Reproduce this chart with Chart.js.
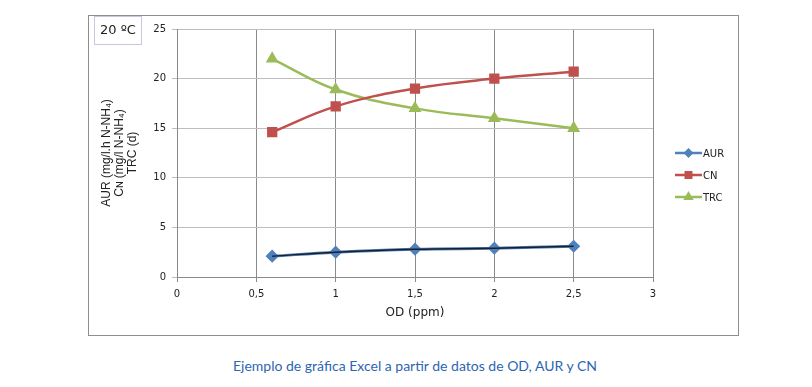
<!DOCTYPE html>
<html>
<head>
<meta charset="utf-8">
<script src="https://cdn.jsdelivr.net/npm/chart.js@4"></script>
<style>
  body { margin: 0; background: #fff; width: 812px; height: 387px; position: relative; overflow: hidden; }
  #wrap { position: absolute; left: 88px; top: 15px; width: 651px; height: 321px; }
  #caption { position: absolute; left: 9px; width: 812px; top: 357px; text-align: center;
    font-family: Lato, "Open Sans", sans-serif; font-size: 14px; color: #2c66b2; }
</style>
</head>
<body>
<div id="wrap"><canvas id="grafica" width="651" height="321"></canvas></div>
<div id="caption">Ejemplo de gráfica Excel a partir de datos de OD, AUR y CN</div>
<script>
// OD (ppm)
var od = [0.6, 1, 1.5, 2, 2.5];
var aur = [2.1, 2.5, 2.8, 2.9, 3.1];
var cn = [14.6, 17.2, 19.0, 20.0, 20.7];
var trc = [22.0, 18.9, 17.0, 16.0, 15.0];
var serieNames = ["AUR", "CN", "TRC"];
var yTitle = ["AUR (mg/l.h N-NH₄)", "Cɴ (mg/l N-NH₄)", "TRC (d)"];

function pts(vals) {
  return vals.map(function (v, i) { return {x: od[i], y: v}; });
}

var marco = {
  id: 'marco',
  beforeDraw: function (chart) {
    var c = chart.ctx;
    c.save();
    c.fillStyle = '#fff';
    c.fillRect(0, 0, chart.width, chart.height);
    c.strokeStyle = '#8e8e8e';
    c.lineWidth = 1;
    c.strokeRect(0.5, 0.5, chart.width - 1, chart.height - 1);
    // caja "20 ºC"
    c.strokeStyle = '#c9c6e2';
    c.strokeRect(6.5, 1.5, 47, 28);
    c.fillStyle = '#222';
    c.font = '13px "DejaVu Sans"';
    c.textAlign = 'center';
    c.textBaseline = 'middle';
    c.fillText('20 ºC', 30, 16);
    c.restore();
  },
  afterDraw: function (chart) {
    // leyenda estilo Excel: linea + marcador
    var c = chart.ctx;
    c.save();
    c.font = '10px "DejaVu Sans"';
    c.textBaseline = 'middle';
    c.textAlign = 'left';
    var y0 = 138;
    chart.data.datasets.forEach(function (ds) {
      if (!ds.enLeyenda) return;
      c.strokeStyle = ds.borderColor;
      c.lineWidth = 2.5;
      c.beginPath();
      c.moveTo(587, y0);
      c.lineTo(614, y0);
      c.stroke();
      c.fillStyle = ds.pointBackgroundColor;
      c.strokeStyle = ds.pointBorderColor;
      Chart.helpers.drawPoint(c, {pointStyle: ds.pointStyle, radius: ds.pointRadius * 0.7, rotation: 0, borderWidth: 1}, 600.5, y0);
      c.fillStyle = '#222';
      c.fillText(ds.label, 615, y0 + 1);
      y0 += 22;
    });
    c.restore();
  }
};

new Chart(document.getElementById('grafica'), {
  type: 'scatter',
  data: {
    datasets: [
      {
        label: 'tendencia', data: pts(aur), showLine: true, borderColor: '#18202c', borderWidth: 1.5,
        pointRadius: 0, tension: 0.4, order: 0, enLeyenda: false
      },
      {
        label: serieNames[0], data: pts(aur), showLine: true, borderColor: '#4f81bd', borderWidth: 3,
        pointStyle: 'rectRot', pointRadius: 4.5, pointBackgroundColor: '#4f81bd', pointBorderColor: '#4f81bd',
        tension: 0.4, order: 1, enLeyenda: true
      },
      {
        label: serieNames[1], data: pts(cn), showLine: true, borderColor: '#c0504d', borderWidth: 2.5,
        pointStyle: 'rect', pointRadius: 5.5, pointBackgroundColor: '#c0504d', pointBorderColor: '#c0504d',
        tension: 0.4, order: 1, enLeyenda: true
      },
      {
        label: serieNames[2], data: pts(trc), showLine: true, borderColor: '#9bbb59', borderWidth: 2.5,
        pointStyle: 'triangle', pointRadius: 5, pointBackgroundColor: '#9bbb59', pointBorderColor: '#9bbb59',
        tension: 0.4, order: 1, enLeyenda: true
      }
    ]
  },
  options: {
    responsive: false,
    animation: false,
    layout: { padding: { left: 0, right: 86, top: 14, bottom: 0 } },
    plugins: { legend: { display: false }, tooltip: { enabled: false } },
    scales: {
      x: {
        type: 'linear', min: 0, max: 3,
        afterFit: function (s) { s.height = 59; },
        ticks: {
          stepSize: 0.5, color: '#222', padding: 6,
          font: { family: 'DejaVu Sans', size: 10 },
          callback: function (v) { return String(v).replace('.', ','); }
        },
        grid: { color: '#8a8a8a', tickLength: 5, drawTicks: true },
        border: { color: '#8a8a8a' },
        title: {
          display: true, text: 'OD (ppm)', color: '#222',
          font: { family: 'DejaVu Sans', size: 12 }, padding: { top: 0, bottom: 16 }
        }
      },
      y: {
        min: 0, max: 25,
        afterFit: function (s) { s.width = 89; },
        ticks: { stepSize: 5, color: '#222', padding: 6, font: { family: 'DejaVu Sans', size: 10 } },
        grid: { color: '#bdbdbd', tickLength: 5 },
        border: { color: '#8a8a8a' },
        title: {
          display: true, text: yTitle, color: '#222',
          font: { family: 'Liberation Sans', size: 12, lineHeight: 1.1 }, padding: { top: 12, bottom: 0 }
        }
      }
    }
  },
  plugins: [marco]
});
</script>
</body>
</html>
